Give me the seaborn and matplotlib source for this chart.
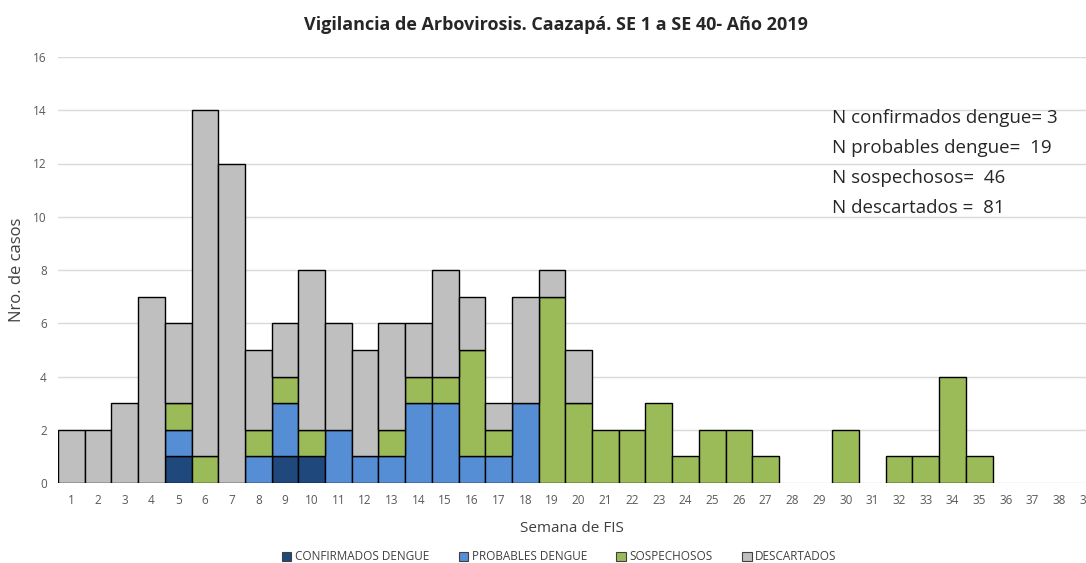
import numpy as np
import pandas as pd
import matplotlib.pyplot as plt
import seaborn as sns
from matplotlib.patches import Patch

semanas = list(range(1, 40))
confirmados = [0, 0, 0, 0, 1, 0, 0, 0, 1, 1,
               0, 0, 0, 0, 0, 0, 0, 0, 0, 0,
               0, 0, 0, 0, 0, 0, 0, 0, 0, 0,
               0, 0, 0, 0, 0, 0, 0, 0, 0]
probables = [0, 0, 0, 0, 1, 0, 0, 1, 2, 0,
             2, 1, 1, 3, 3, 1, 1, 3, 0, 0,
             0, 0, 0, 0, 0, 0, 0, 0, 0, 0,
             0, 0, 0, 0, 0, 0, 0, 0, 0]
sospechosos = [0, 0, 0, 0, 1, 1, 0, 1, 1, 1,
               0, 0, 1, 1, 1, 4, 1, 0, 7, 3,
               2, 2, 3, 1, 2, 2, 1, 0, 0, 2,
               0, 1, 1, 4, 1, 0, 0, 0, 0]
descartados = [2, 2, 3, 7, 3, 13, 12, 3, 2, 6,
               4, 4, 4, 2, 4, 2, 1, 4, 1, 2,
               0, 0, 0, 0, 0, 0, 0, 0, 0, 0,
               0, 0, 0, 0, 0, 0, 0, 0, 0]

tipos = ["CONFIRMADOS DENGUE", "PROBABLES DENGUE", "SOSPECHOSOS", "DESCARTADOS"]
colores = ["#1F497D", "#558ED5", "#9BBB59", "#BFBFBF"]
resumen = ["N confirmados dengue= 3", "N probables dengue=  19",
           "N sospechosos=  46", "N descartados =  81"]

df = pd.DataFrame({"semana": semanas,
                   tipos[0]: confirmados, tipos[1]: probables,
                   tipos[2]: sospechosos, tipos[3]: descartados})
largo = df.melt(id_vars="semana", var_name="tipo", value_name="casos")

sns.set_style("white")
plt.rcParams['font.family'] = ['Open Sans', 'DejaVu Sans']

fig = plt.figure(figsize=(10.86, 5.63), dpi=100)
ax = fig.add_axes([58 / 1086, 1 - 483 / 563, 1 - 58 / 1086, (483 - 57) / 563])

# seaborn stacks the last hue level at the bottom
sns.histplot(data=largo, x="semana", weights="casos", hue="tipo",
             hue_order=tipos[::-1], palette=dict(zip(tipos, colores)),
             multiple="stack", discrete=True, shrink=1, alpha=1,
             edgecolor="black", linewidth=1, legend=False, ax=ax)

for p in list(ax.patches):
    if p.get_height() == 0:
        p.remove()

ax.set_xlim(0.5, 0.5 + (1086 - 58) / 26.8)
ax.set_ylim(0, 16)
ax.set_xticks(semanas)
ax.set_yticks(range(0, 17, 2))
ax.yaxis.grid(True, color="#D9D9D9", linewidth=1)
ax.set_axisbelow(True)
for s in ax.spines.values():
    s.set_visible(False)
ax.tick_params(axis="both", length=0, labelsize=8.5, colors="#595959", pad=8)

ax.set_xlabel("Semana de FIS", fontsize=11, color="#404040", labelpad=10)
ax.set_ylabel("Nro. de casos", fontsize=12, color="#404040", labelpad=6)

fig.text(0.512, 0.955, "Vigilancia de Arbovirosis. Caazapá. SE 1 a SE 40- Año 2019",
         ha="center", va="center", fontsize=13, fontweight="bold", color="#262626")

for i, t in enumerate(resumen):
    fig.text(832 / 1086, 1 - (118 + 30 * i) / 563, t, ha="left", va="center",
             fontsize=13.5, color="#262626")

handles = [Patch(facecolor=c, edgecolor="#404040", linewidth=0.8) for c in colores]
fig.legend(handles, tipos, loc="center", bbox_to_anchor=(0.515, 1 - 557 / 563),
           ncol=4, frameon=False, fontsize=8.5, handlelength=0.8, handleheight=0.8,
           handletextpad=0.3, columnspacing=2.5, labelcolor="#404040")

fig.savefig("out.png", dpi=100)
